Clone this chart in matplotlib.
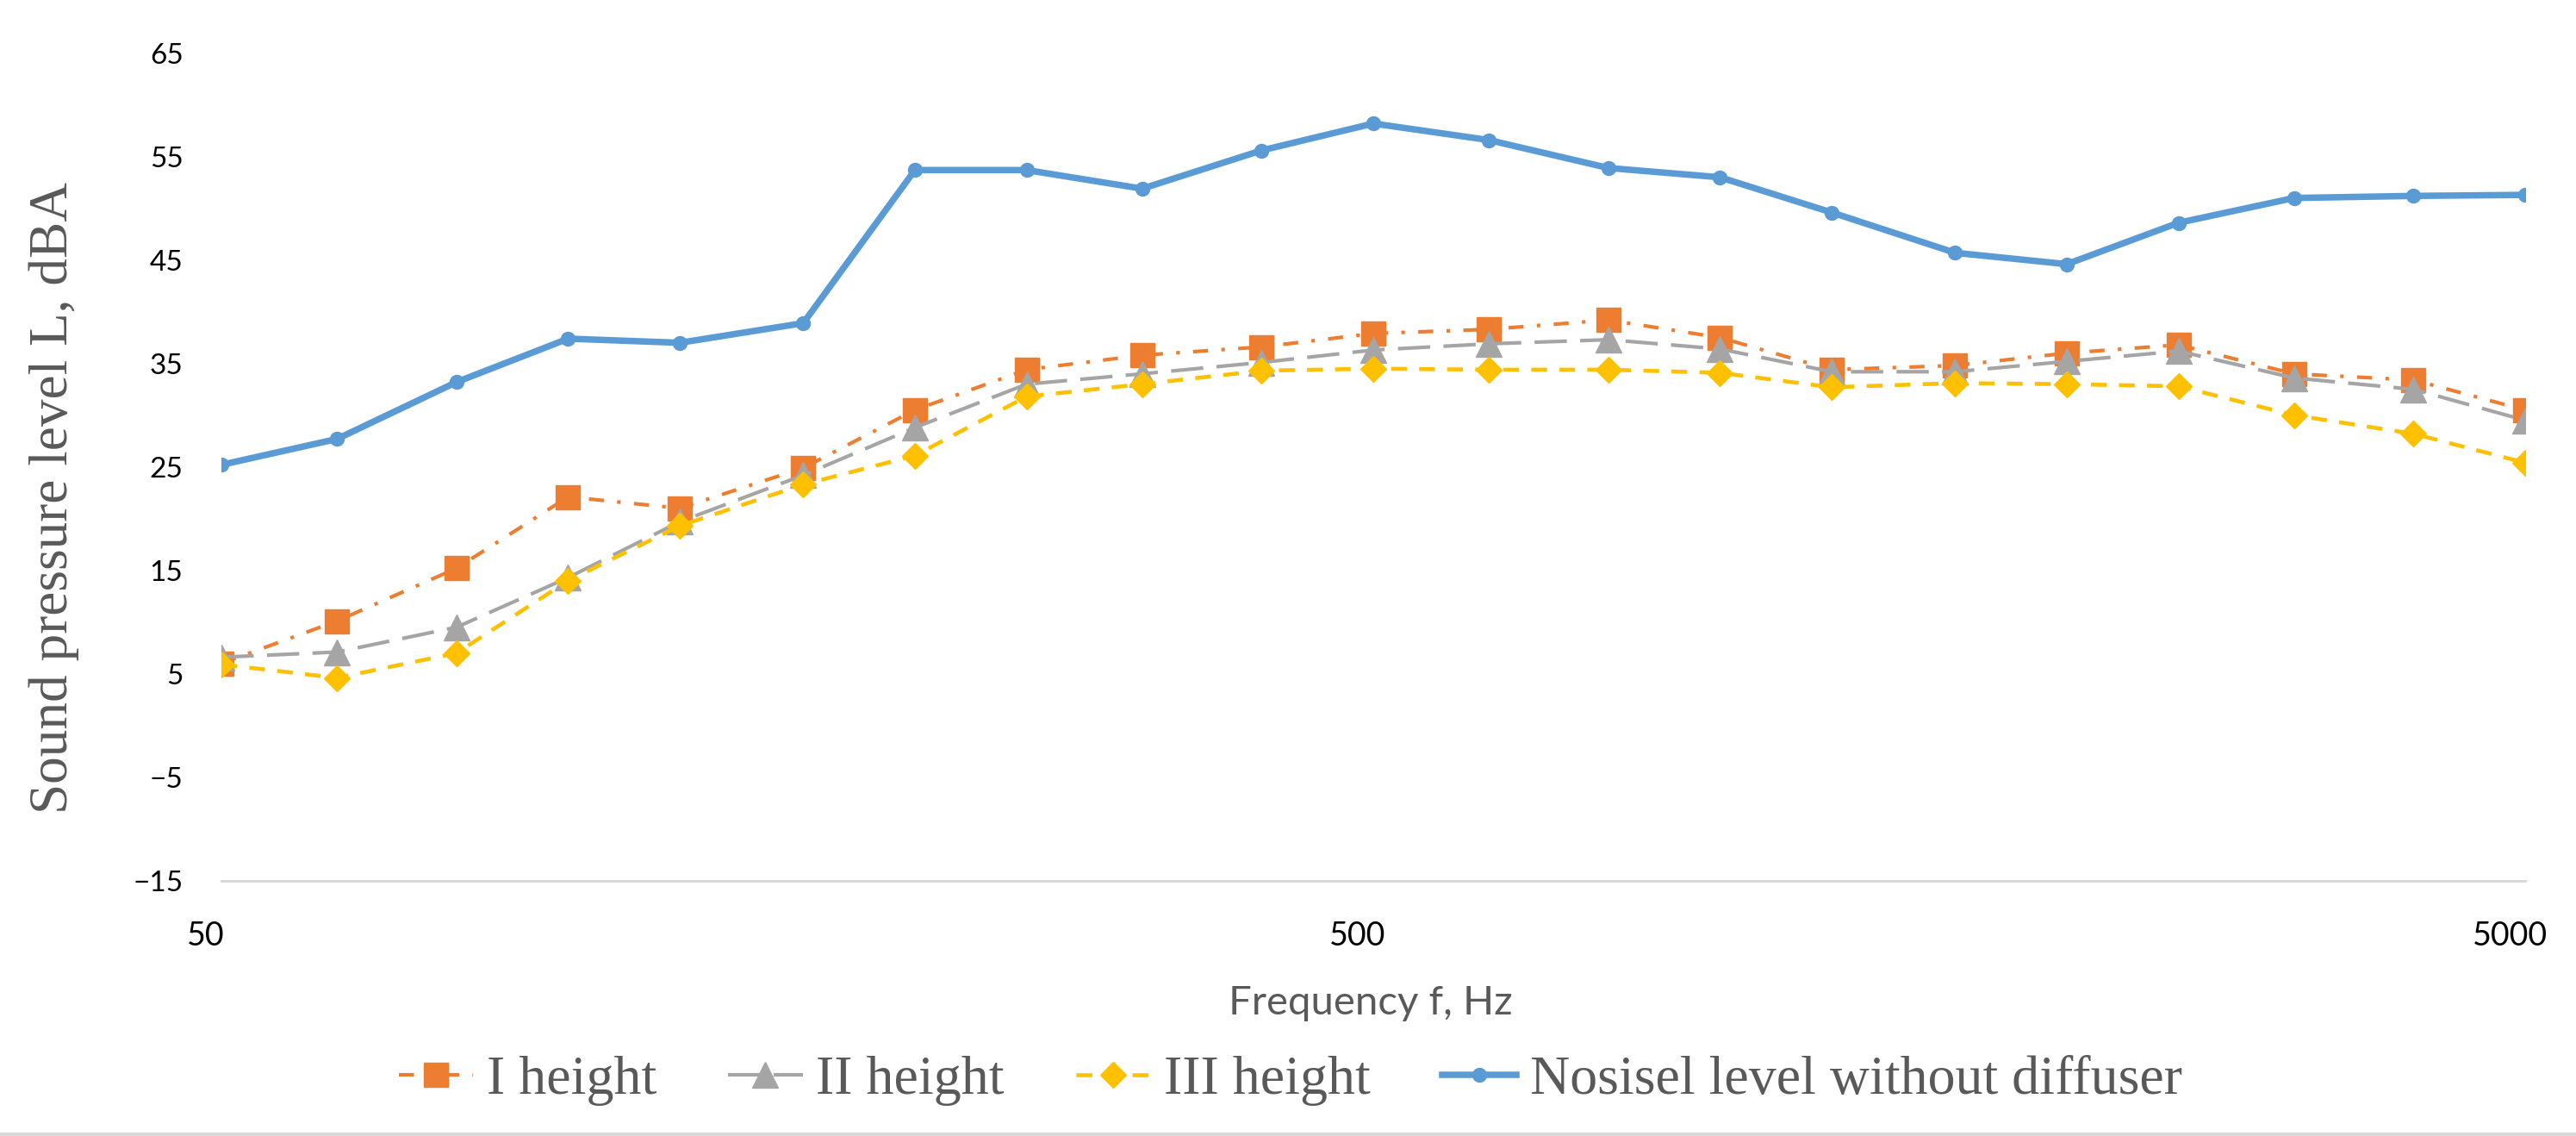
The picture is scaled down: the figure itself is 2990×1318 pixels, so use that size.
import matplotlib
matplotlib.use("Agg")
import matplotlib.pyplot as plt
import matplotlib.transforms as mtransforms
from matplotlib.lines import Line2D

freq = [50, 63, 80, 100, 125, 160, 200, 250, 315, 400, 500, 630, 800,
        1000, 1250, 1600, 2000, 2500, 3150, 4000, 5000]
h1 = [6.0, 10.1, 15.2, 22.1, 21.0, 24.9, 30.5, 34.4, 35.8, 36.6, 37.9, 38.3, 39.2,
      37.5, 34.4, 34.8, 36.0, 36.8, 34.0, 33.4, 30.5]
h2 = [6.6, 7.1, 9.5, 14.3, 19.7, 24.2, 28.8, 33.0, 34.0, 35.1, 36.3, 36.9, 37.3,
      36.4, 34.2, 34.2, 35.2, 36.2, 33.6, 32.5, 29.5]
h3 = [5.9, 4.6, 7.0, 14.0, 19.3, 23.3, 26.1, 31.8, 33.0, 34.3, 34.5, 34.4, 34.4,
      34.1, 32.7, 33.1, 33.0, 32.8, 30.0, 28.2, 25.4]
base = [25.2, 27.7, 33.2, 37.4, 37.0, 38.9, 53.7, 53.7, 51.9, 55.6, 58.2, 56.6, 53.9,
        53.0, 49.6, 45.7, 44.6, 48.6, 51.0, 51.2, 51.3]

series_labels = ["I height", "II height", "III height", "Nosisel level without diffuser"]
yticks = [65, 55, 45, 35, 25, 15, 5, -5, -15]
xticks = [50, 500, 5000]

W, H = 2990, 1318
fig = plt.figure(figsize=(W / 100, H / 100), dpi=100)
fig.patch.set_facecolor("white")

left, right = 257 / W, 2931 / W
bottom, top = 1 - 1021.7 / H, 1 - 61.7 / H
ax = fig.add_axes([left, bottom, right - left, top - bottom])

c1, c2, c3, c4 = "#ED7D31", "#A5A5A5", "#FFC000", "#5B9BD5"

l1, = ax.plot(freq, h1, color=c1, lw=3.0, marker="s", ms=20, mec=c1, mfc=c1,
              dashes=(4.2, 3.7, 1, 3.7), label=series_labels[0], zorder=3)
l2, = ax.plot(freq, h2, color=c2, lw=3.0, marker="^", ms=21.5, mec=c2, mfc=c2,
              dashes=(9.0, 3.7), label=series_labels[1], zorder=4)
l3, = ax.plot(freq, h3, color=c3, lw=3.3, marker="D", ms=15.3, mec=c3, mfc=c3,
              dashes=(4, 3.1), label=series_labels[2], zorder=5)
l4, = ax.plot(freq, base, color=c4, lw=5.4, marker="o", ms=11.5, mec=c4, mfc=c4,
              label=series_labels[3], zorder=6)

ax.set_xscale("log")
ax.set_xlim(50, 5000)
ax.set_ylim(-15, 65)
ax.set_xticks(xticks)
ax.set_xticklabels([str(v) for v in xticks])
ax.xaxis.set_minor_locator(matplotlib.ticker.NullLocator())
ax.set_yticks(yticks)
ax.set_yticklabels([("\u2212" + str(-v)) if v < 0 else str(v) for v in yticks])

for s in ["top", "right", "left"]:
    ax.spines[s].set_visible(False)
ax.spines["bottom"].set_color("#D9D9D9")
ax.spines["bottom"].set_linewidth(2.2)
ax.tick_params(axis="both", length=0)
ax.tick_params(axis="y", pad=32)
ax.tick_params(axis="x", pad=33)

for lab in ax.get_yticklabels():
    lab.set_fontfamily("Lato")
    lab.set_fontsize(24)
    lab.set_color("#000000")
offset = mtransforms.ScaledTranslation(-18 / 100, 0, fig.dpi_scale_trans)
for lab in ax.get_xticklabels():
    lab.set_fontfamily("Lato")
    lab.set_fontsize(27)
    lab.set_color("#000000")
    lab.set_transform(lab.get_transform() + offset)

fig.text(63 / W, 1 - 578 / H, "Sound pressure level L, dBA", rotation=90,
         ha="center", va="center", fontsize=45.5, family="Liberation Serif",
         color="#595959")
fig.text(1591 / W, 1 - 1164 / H, "Frequency f, Hz", ha="center", va="center",
         fontsize=34, family="Lato", color="#595959")

leg = fig.legend(handles=[l1, l2, l3, l4], loc="center",
                 bbox_to_anchor=(1498 / W, 1 - 1254 / H), ncol=4, frameon=False,
                 prop={"family": "Liberation Serif", "size": 46},
                 handlelength=1.35, handletextpad=0.25, columnspacing=1.3,
                 borderaxespad=0, borderpad=0)
for t in leg.get_texts():
    t.set_color("#595959")

fig.add_artist(Line2D([0, 1], [2 / H, 2 / H], transform=fig.transFigure,
                      color="#D9D9D9", lw=3))

fig.savefig("out.png", dpi=100, facecolor="white")
